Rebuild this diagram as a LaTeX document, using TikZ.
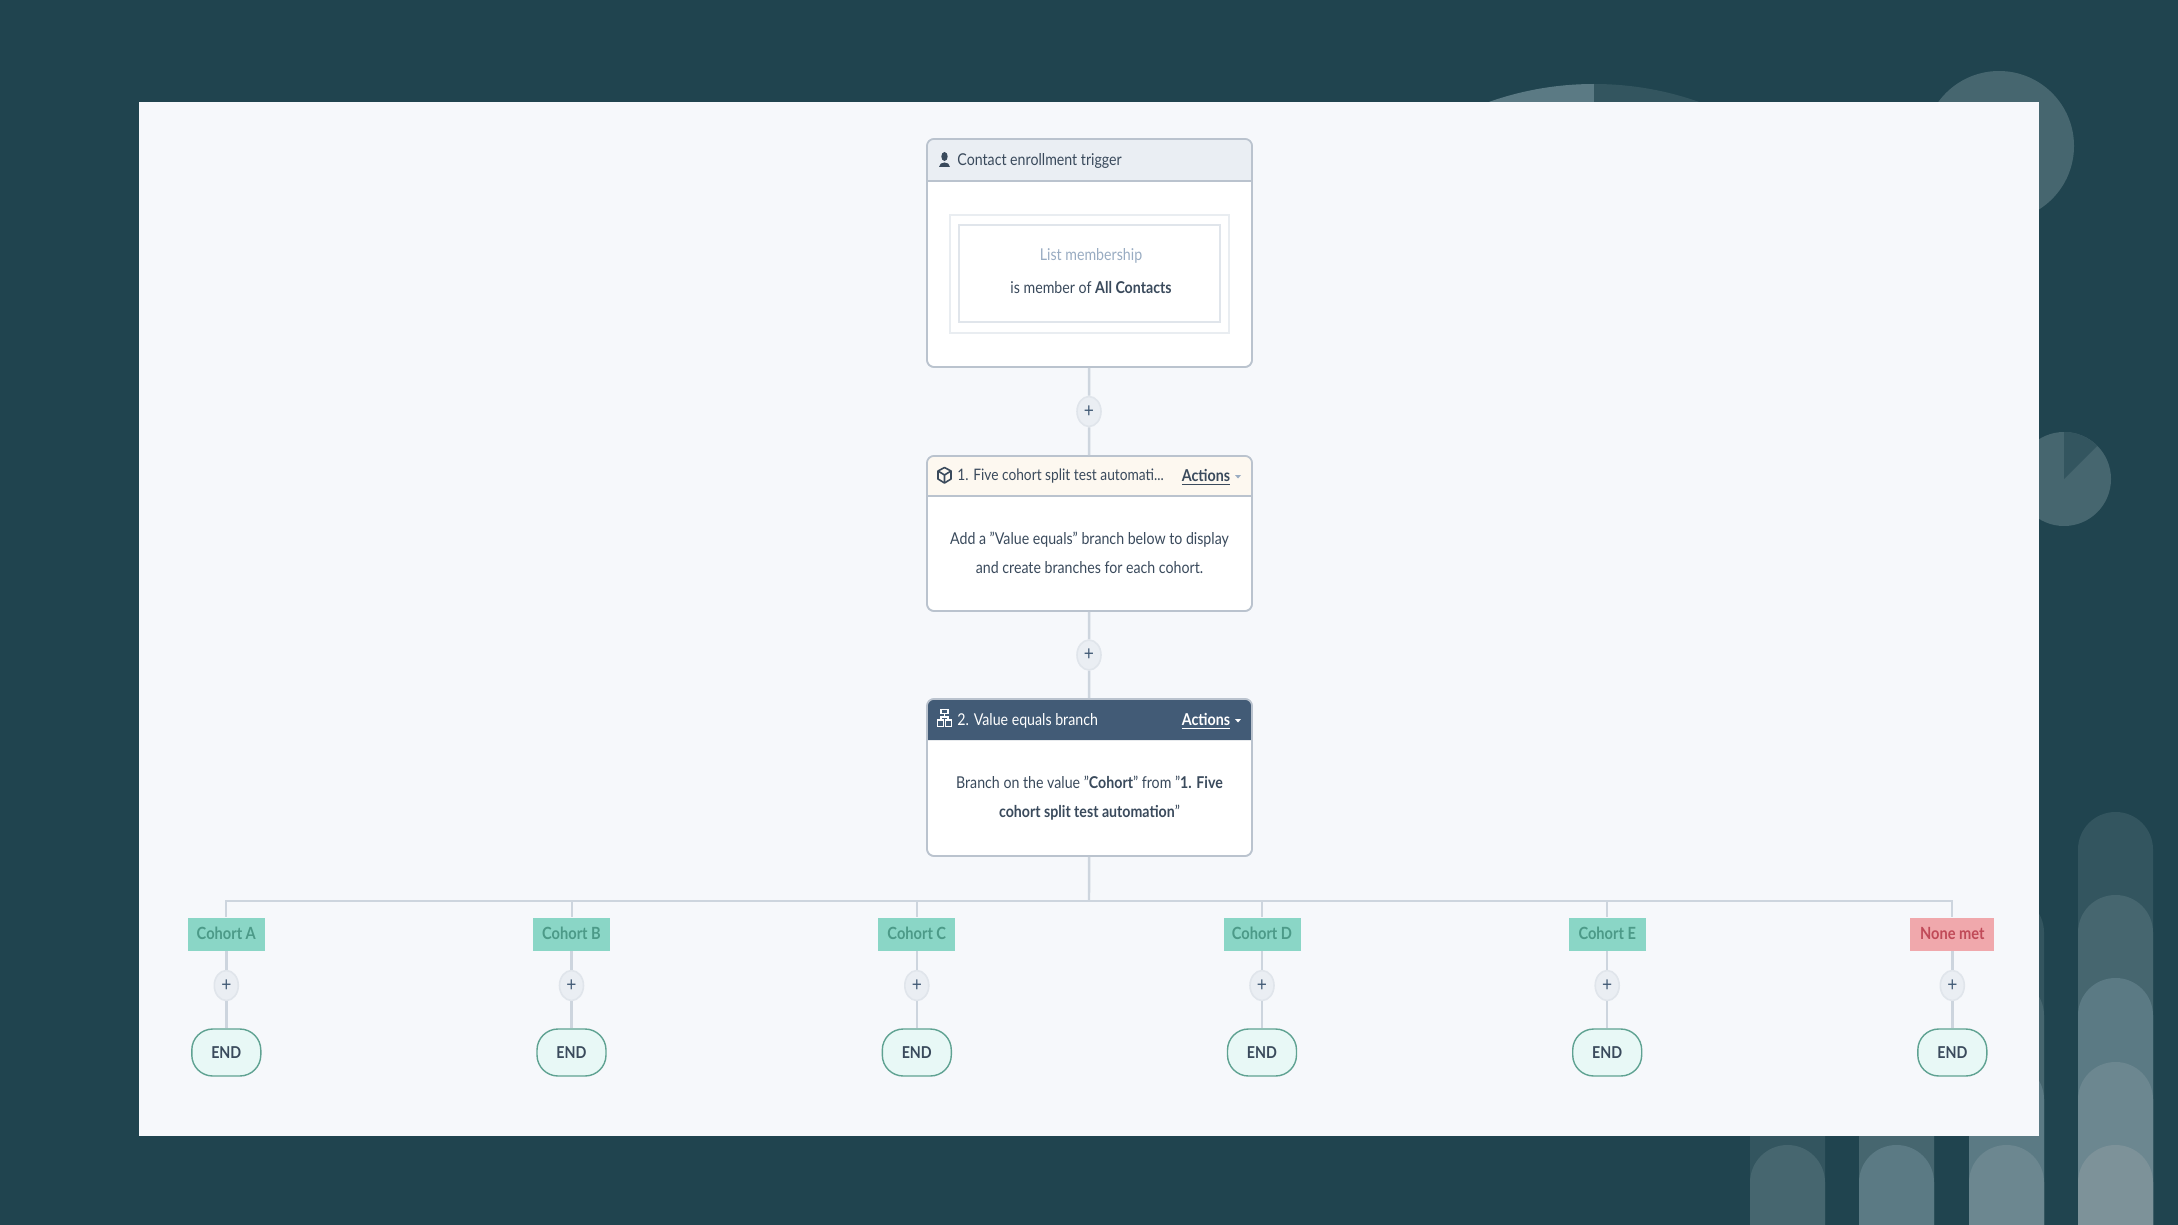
\documentclass[tikz,border=0pt]{standalone}
\usepackage{fontspec}
\setmainfont{Lato}[FakeStretch=0.87]
\usetikzlibrary{shapes.geometric}
\definecolor{bgc}{HTML}{20444F}
\definecolor{panelc}{HTML}{F6F8FB}
\definecolor{toneA}{HTML}{33555F}
\definecolor{toneB}{HTML}{46666F}
\definecolor{toneC}{HTML}{5B7A84}
\definecolor{toneD}{HTML}{6C8790}
\definecolor{toneE}{HTML}{7D9299}
\definecolor{ink}{HTML}{3A4A5C}
\definecolor{muted}{HTML}{99ACC2}
\definecolor{edgec}{HTML}{BAC3CE}
\definecolor{linec}{HTML}{CDD5DE}
\definecolor{softc}{HTML}{E0E5EB}
\definecolor{headA}{HTML}{EAEEF3}
\definecolor{headB}{HTML}{FDF8F0}
\definecolor{headC}{HTML}{425B76}
\definecolor{tealf}{HTML}{8AD6C6}
\definecolor{tealt}{HTML}{4C9A88}
\definecolor{redf}{HTML}{F0A8AC}
\definecolor{redt}{HTML}{C04A58}
\definecolor{endf}{HTML}{E8F8F6}
\definecolor{endd}{HTML}{5FA292}
\newcommand{\fs}[1]{\fontsize{#1}{#1}\selectfont}
\newcommand{\capbar}[4]{\fill[#4] (#1,1300) [rounded corners=18.7pt] -- (#1,#3) -- (#2,#3) [sharp corners] -- (#2,1300) -- cycle;}
\tikzset{
  card/.style={draw=edgec,line width=.8pt,fill=white,rounded corners=3.5pt,minimum width=162.5pt,inner sep=0pt},
  conn/.style={draw=linec,line width=1.2pt},
  bus/.style={draw=linec,line width=1pt},
  plusnode/.style={ellipse,draw=softc,line width=.8pt,fill=headA,minimum width=12pt,minimum height=15pt,inner sep=0pt,text=headC,font=\fs{10}},
  cohort/.style={fill=tealf,text=tealt,minimum width=38.5pt,minimum height=16.5pt,inner sep=0pt,font=\fs{8.4}\bfseries},
  nonemet/.style={fill=redf,text=redt,minimum width=42pt,minimum height=16.5pt,inner sep=0pt,font=\fs{8.4}\bfseries},
  endnode/.style={draw=endd,line width=.7pt,fill=endf,text=ink,rounded corners=10.5pt,minimum width=34.5pt,minimum height=23.5pt,inner sep=0pt,font=\fs{8.2}\bfseries},
  label/.style={text=ink,inner sep=0pt,font=\fs{8.15}},
  title/.style={label,anchor=west,font=\fs{8.15}},
  acts/.style={label,font=\fs{8.2}\bfseries},
  innerbox/.style={draw=#1,line width=.6pt,fill=white,inner sep=0pt}
}
\begin{document}
\begin{tikzpicture}[x=.5pt,y=-.5pt]
\useasboundingbox (0,0) rectangle (2178,1225);
\clip (0,0) rectangle (2178,1225);
\fill[bgc] (0,0) rectangle (2178,1225);
% decoration
\fill[toneC] (1594,399) -- ++(0,-315) arc[start angle=90,end angle=180,radius=157.5pt] -- cycle;
\fill[toneA] (1594,399) -- ++(0,-315) arc[start angle=90,end angle=0,radius=157.5pt] -- cycle;
\fill[toneB] (1999,146) circle[radius=37.5pt];
\fill[toneB] (2064,479) circle[radius=23.5pt];
\fill[toneA] (2064,479) -- ++(0,-47) arc[start angle=90,end angle=45,radius=23.5pt] -- cycle;
\capbar{1750}{1825}{1062}{toneA}\capbar{1750}{1825}{1145}{toneB}
\capbar{1859}{1934}{978}{toneA}\capbar{1859}{1934}{1062}{toneB}\capbar{1859}{1934}{1145}{toneC}
\capbar{1969}{2044}{895}{toneA}\capbar{1969}{2044}{978}{toneB}\capbar{1969}{2044}{1062}{toneC}\capbar{1969}{2044}{1145}{toneD}
\capbar{2078}{2153}{812}{toneA}\capbar{2078}{2153}{895}{toneB}\capbar{2078}{2153}{978}{toneC}\capbar{2078}{2153}{1062}{toneD}\capbar{2078}{2153}{1145}{toneE}
\fill[panelc] (139,102) rectangle (2039,1136);
% cards
\node[card,minimum height=114pt] (trigger) at (1089.5,253) {};
\node[card,minimum height=77.5pt] (split) at (1089.5,533.5) {};
\node[card,minimum height=78.5pt] (branch) at (1089.5,777.5) {};
% headers
\fill[headA,rounded corners=3.5pt] (927,181) -- (927,139) -- (1252,139) [sharp corners] -- (1252,181) -- cycle;
\fill[headB,rounded corners=3.5pt] (927,496) -- (927,456) -- (1252,456) [sharp corners] -- (1252,496) -- cycle;
\fill[headC,rounded corners=3.5pt] (927,740) -- (927,699) -- (1252,699) [sharp corners] -- (1252,740) -- cycle;
\draw[edgec,line width=.8pt,rounded corners=3.5pt] (927,367) -- (927,139) -- (1252,139) -- (1252,367) -- cycle;
\draw[edgec,line width=.8pt] (927,181) -- (1252,181) (927,496) -- (1252,496);
\draw[edgec,line width=.8pt,rounded corners=3.5pt] (927,611) -- (927,456) -- (1252,456) -- (1252,611) -- cycle;
\draw[edgec,line width=.8pt,rounded corners=3.5pt] (927,856) -- (927,699) -- (1252,699) -- (1252,856) -- cycle;
% trigger inner
\node[innerbox=softc!70,minimum width=139.5pt,minimum height=59pt] (outerbox) at (1089.5,274) {};
\node[innerbox=softc,minimum width=130.5pt,minimum height=48.5pt] (innerb) at (1089.5,273.5) {};
% icons
\fill[ink] (944.5,156.5) ellipse[x radius=3.2,y radius=4.5];
\fill[ink] (939,167) .. controls (939,161) and (950,161) .. (950,167) -- cycle;
\draw[ink,line width=.8pt,line join=round] (944.5,467.5) -- (951,471) -- (951,479) -- (944.5,483) -- (938,479) -- (938,471) -- cycle;
\draw[ink,line width=.8pt,line join=round] (938,471) -- (944.5,475) -- (951,471) (944.5,475) -- (944.5,483);
\draw[white,line width=.6pt] (941,709.5) rectangle (948,713.5) (944.5,713.5) -- (944.5,717) (941,720) -- (941,717) -- (948,717) -- (948,720);
\draw[white,line width=.6pt] (937.5,720) rectangle (943.5,726.5) (945.5,720) rectangle (951.5,726.5);
% texts
\node[title] (t1) at (957,160.5) {Contact enrollment trigger};
\node[label,text=muted] (t2) at (1091,255.5) {List membership};
\node[label] (t3) at (1091,288) {is member of \textbf{All Contacts}};
\node[title,font=\fs{7.9}] (t4) at (957,476.5) {1. Five cohort split test automati...};
\node[acts] (a1) at (1206,477) {\underline{Actions}};
\node[label] (t5) at (1089.5,539.5) {Add a "Value equals" branch below to display};
\node[label] (t6) at (1089.5,567.5) {and create branches for each cohort.};
\node[title,text=white] (t7) at (957,721) {2. Value equals branch};
\node[acts,text=white] (a2) at (1206,721.5) {\underline{Actions}};
\node[label] (t8) at (1089.5,782) {Branch on the value "\textbf{Cohort}" from "\textbf{1. Five}};
\node[label] (t9) at (1089.5,813) {\textbf{cohort split test automation}"};
\fill[muted] (1235,475) -- (1241,475) -- (1238,478.5) -- cycle;
\fill[white] (1235,719) -- (1241,719) -- (1238,722.5) -- cycle;
% flow nodes
\node[plusnode] (p1) at (1089,411.5) {\raisebox{-1pt}{+}};
\node[plusnode] (p2) at (1089,655) {\raisebox{-1pt}{+}};
\coordinate (hub) at (1089,901);
\foreach \nm/\cx/\txt/\sty in {A/226.3/Cohort A/cohort,B/571.5/Cohort B/cohort,C/916.8/Cohort C/cohort,D/1262/Cohort D/cohort,E/1607.2/Cohort E/cohort,N/1952.3/None met/nonemet}{
  \node[\sty] (lab\nm) at (\cx,934) {\raisebox{.4pt}{\txt}};
  \node[plusnode] (pl\nm) at (\cx,985.5) {\raisebox{-.5pt}{+}};
  \node[endnode] (end\nm) at (\cx,1052.5) {END};
  \draw[conn] (lab\nm) -- (pl\nm);
  \draw[conn] (pl\nm) -- (end\nm);
  \draw[bus] (hub) -| (lab\nm);
}
\draw[conn] (trigger) -- (p1);
\draw[conn] (p1) -- (split);
\draw[conn] (split) -- (p2);
\draw[conn] (p2) -- (branch);
\draw[conn] (branch) -- (hub);
\end{tikzpicture}
\end{document}
